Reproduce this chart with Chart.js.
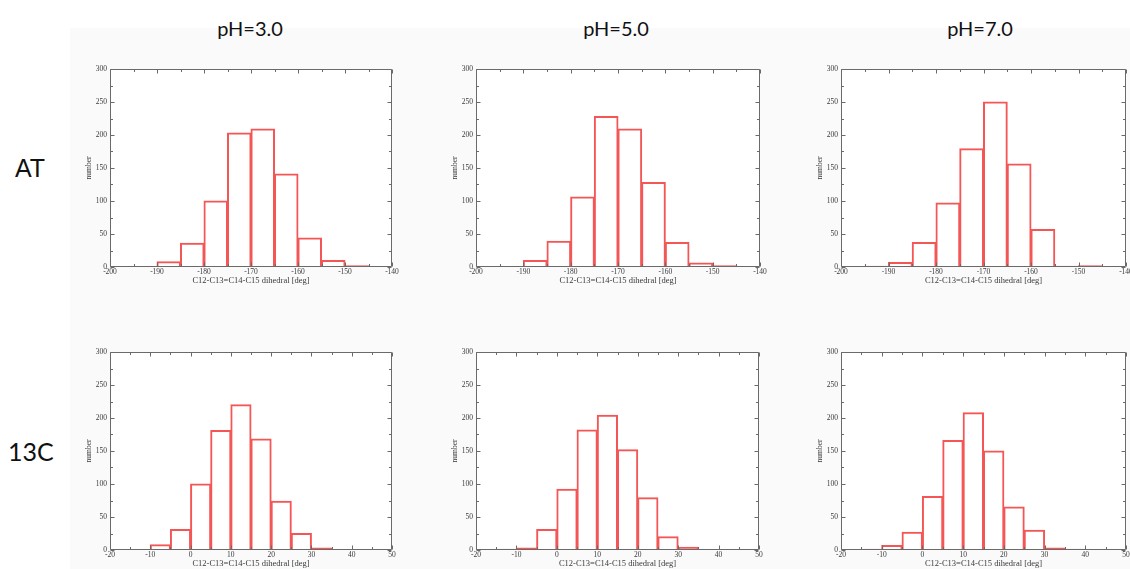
<!DOCTYPE html>
<html><head><meta charset="utf-8">
<script src="https://cdn.jsdelivr.net/npm/chart.js@4.4.1/dist/chart.umd.min.js"></script>
<style>
html,body{margin:0;padding:0;background:#fff;overflow:hidden;width:1130px;height:569px;position:relative}
#bg{position:absolute;left:70px;top:28px;right:0;bottom:0;background:#fafafa}
canvas{position:absolute}
.col{position:absolute;top:14px;width:120px;margin-left:-60px;text-align:center;font-family:Lato,"Open Sans",sans-serif;font-size:20px;color:#111;line-height:28px}
.row{position:absolute;color:#111;line-height:32px}
</style></head><body>
<div id="bg"></div>
<div class="col" style="left:250px">pH=3.0</div>
<div class="col" style="left:616px">pH=5.0</div>
<div class="col" style="left:980px">pH=7.0</div>
<div class="row" style="left:15px;top:152px;font-family:'Liberation Sans',Arial,sans-serif;font-size:25px">AT</div>
<div class="row" style="left:8px;top:435px;font-family:Lato,sans-serif;font-size:25px">13C</div>
<canvas id="c1"></canvas><canvas id="c2"></canvas><canvas id="c3"></canvas>
<canvas id="c4"></canvas><canvas id="c5"></canvas><canvas id="c6"></canvas>
<script>
// ---- data ----
const BIN_WIDTH = 5;
const atPH3Bins = [-190,-185,-180,-175,-170,-165,-160,-155,-150];
const atPH3Counts = [8,36,100,203,209,141,44,10,2];
const atPH5Bins = [-190,-185,-180,-175,-170,-165,-160,-155,-150];
const atPH5Counts = [10,39,106,228,209,128,37,6,2];
const atPH7Bins = [-195,-190,-185,-180,-175,-170,-165,-160,-155,-150];
const atPH7Counts = [1,7,37,97,179,250,156,57,1,2];
const c13PH3Bins = [-10,-5,0,5,10,15,20,25,30];
const c13PH3Counts = [8,31,100,181,220,168,74,25,3];
const c13PH5Bins = [-15,-10,-5,0,5,10,15,20,25,30];
const c13PH5Counts = [1,3,31,92,182,204,152,79,20,4];
const c13PH7Bins = [-15,-10,-5,0,5,10,15,20,25,30,35];
const c13PH7Counts = [1,7,27,81,166,208,150,65,30,3,1];
const atXTicks = [-200,-190,-180,-170,-160,-150,-140];
const c13XTicks = [-20,-10,0,10,20,30,40,50];
const yTicks = [0,50,100,150,200,250,300];
const xTitle = 'C12-C13=C14-C15 dihedral [deg]';
const yTitle = 'number';

// ---- layout ----
const Y_AXIS_W = 40, X_AXIS_H = 22, PAD_T = 8, PAD_R = 10;
const panels = [
  {id:'c1', L:110, R:392, T:69, B:267, bins:atPH3Bins, counts:atPH3Counts, ticks:atXTicks},
  {id:'c2', L:476, R:760, T:69, B:267, bins:atPH5Bins, counts:atPH5Counts, ticks:atXTicks},
  {id:'c3', L:841, R:1126, T:69, B:267, bins:atPH7Bins, counts:atPH7Counts, ticks:atXTicks},
  {id:'c4', L:110, R:392, T:352, B:550, bins:c13PH3Bins, counts:c13PH3Counts, ticks:c13XTicks},
  {id:'c5', L:476, R:759, T:352, B:550, bins:c13PH5Bins, counts:c13PH5Counts, ticks:c13XTicks},
  {id:'c6', L:841, R:1126, T:352, B:550, bins:c13PH7Bins, counts:c13PH7Counts, ticks:c13XTicks}
];

const AXIS_COLOR = '#6a6a6a';
const LABEL_COLOR = '#3a3a3a';
const serif = "'Liberation Serif','Times New Roman',serif";

const framePlugin = {
  id:'frame',
  beforeDatasetsDraw(chart){
    const {ctx, chartArea:a} = chart;
    ctx.save(); ctx.fillStyle='#ffffff';
    ctx.fillRect(a.left, a.top, a.right-a.left, a.bottom-a.top);
    ctx.restore();
  },
  afterDatasetsDraw(chart){
    const {ctx, chartArea:a, scales:{x, y}} = chart;
    ctx.save();
    ctx.strokeStyle = AXIS_COLOR; ctx.lineWidth = 1;
    const L = Math.round(a.left)+0.5, R = Math.round(a.right)-0.5, T = Math.round(a.top)+0.5, B = Math.round(a.bottom)-0.5;
    ctx.beginPath();
    ctx.rect(L, T, R-L, B-T);
    const xt = chart.options.scales.x.myTicks;
    const xs = xt[1]-xt[0];
    for (let v = x.min; v <= x.max + 1e-9; v += xs/2) {
      const major = Math.abs(((v - xt[0]) / xs) - Math.round((v - xt[0]) / xs)) < 1e-6;
      const len = major ? 4 : 2.5;
      const px = Math.round(x.getPixelForValue(v)) + 0.5;
      ctx.moveTo(px, B); ctx.lineTo(px, B - len);
      ctx.moveTo(px, T); ctx.lineTo(px, T + len);
    }
    for (let v = y.min; v <= y.max + 1e-9; v += 25) {
      const major = (v % 50) === 0;
      const len = major ? 4 : 2.5;
      const py = Math.round(y.getPixelForValue(v)) + 0.5;
      ctx.moveTo(L, py); ctx.lineTo(L + len, py);
      ctx.moveTo(R, py); ctx.lineTo(R - len, py);
    }
    ctx.stroke();
    ctx.restore();
  }
};

panels.forEach(p => {
  const cv = document.getElementById(p.id);
  const w = (p.R - p.L) + Y_AXIS_W + PAD_R;
  const h = (p.B - p.T) + PAD_T + X_AXIS_H;
  cv.width = w; cv.height = h;
  cv.style.width = w + 'px'; cv.style.height = h + 'px';
  cv.style.left = (p.L - Y_AXIS_W) + 'px'; cv.style.top = (p.T - PAD_T) + 'px';
  const data = p.bins.map((b, i) => ({x: b + BIN_WIDTH / 2, y: p.counts[i]}));
  new Chart(cv, {
    type:'bar',
    data:{datasets:[{data, backgroundColor:'rgba(0,0,0,0)', borderColor:'#f45656', borderWidth:1,
      borderSkipped:'start', barPercentage:1, categoryPercentage:1, inflateAmount:0.5}]},
    options:{
      responsive:false, animation:false, devicePixelRatio:1,
      layout:{padding:{left:0, right:PAD_R, top:PAD_T, bottom:0}},
      plugins:{legend:{display:false}, tooltip:{enabled:false}},
      scales:{
        x:{type:'linear', min:p.ticks[0], max:p.ticks[p.ticks.length-1], offset:false, myTicks:p.ticks,
          afterBuildTicks:s => { s.ticks = p.ticks.map(v => ({value:v})); },
          grid:{display:false, drawTicks:false, offset:false}, border:{display:false},
          ticks:{padding:1, color:LABEL_COLOR, font:{family:serif, size:7.5}, maxRotation:0, autoSkip:false},
          title:{display:true, text:xTitle, color:LABEL_COLOR, font:{family:serif, size:8.5}, padding:{top:0, bottom:3}},
          afterFit:s => { s.height = X_AXIS_H; }},
        y:{type:'linear', min:0, max:300,
          afterBuildTicks:s => { s.ticks = yTicks.map(v => ({value:v})); },
          grid:{display:false, drawTicks:false}, border:{display:false},
          ticks:{padding:3, color:LABEL_COLOR, font:{family:serif, size:7.5}},
          title:{display:true, text:yTitle, color:LABEL_COLOR, font:{family:serif, size:7.5}, padding:{top:15, bottom:0}},
          afterFit:s => { s.width = Y_AXIS_W; }}
      }
    },
    plugins:[framePlugin]
  });
});
</script>
</body></html>
